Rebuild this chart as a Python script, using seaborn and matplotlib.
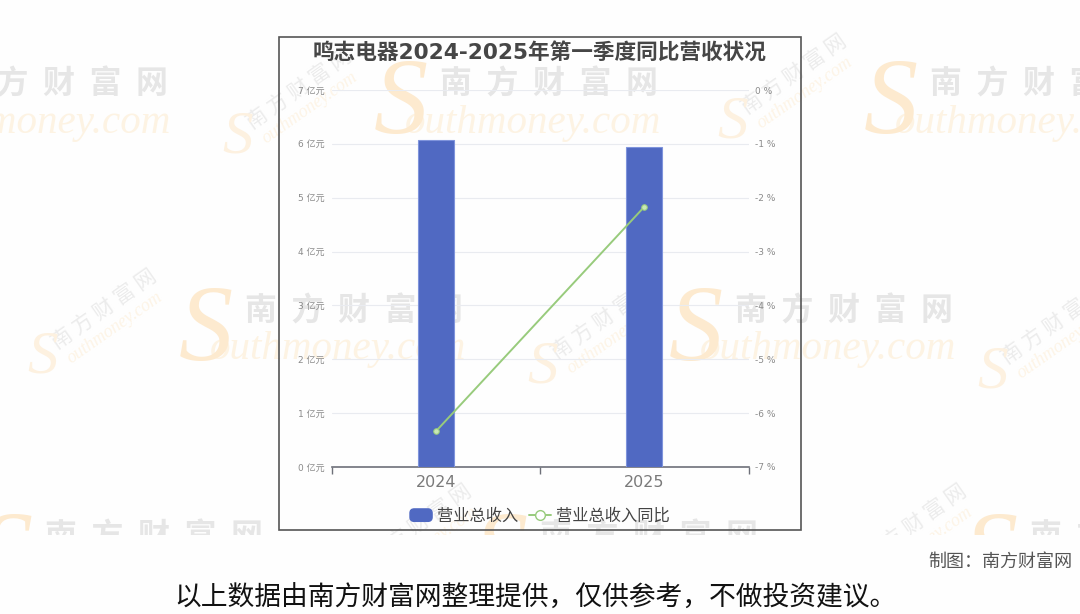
"""
鸣志电器 2024-2025 第一季度同比营收 - bar + line on twin axes, with watermark
"""
import pandas as pd
import matplotlib.pyplot as plt
import seaborn as sns
from matplotlib.patches import Rectangle, Patch, FancyBboxPatch
from matplotlib.lines import Line2D
from matplotlib.legend_handler import HandlerPatch
from matplotlib.transforms import Bbox

years = ["2024", "2025"]
revenue = [6.07, 5.94]        # 亿元
revenue_yoy = [-6.34, -2.17]  # %
rev_ticks = [0, 1, 2, 3, 4, 5, 6, 7]
rev_labels = ["0 亿元", "1 亿元", "2 亿元", "3 亿元", "4 亿元", "5 亿元", "6 亿元", "7 亿元"]
yoy_ticks = [-7, -6, -5, -4, -3, -2, -1, 0]
yoy_labels = ["-7 %", "-6 %", "-5 %", "-4 %", "-3 %", "-2 %", "-1 %", "0 %"]

title = "鸣志电器2024-2025年第一季度同比营收状况"
bar_name = "营业总收入"
line_name = "营业总收入同比"
credit = "制图：南方财富网"
note = "以上数据由南方财富网整理提供，仅供参考，不做投资建议。"
wm_cn = "南方财富网"
wm_en = "outhmoney.com"

BAR_COLOR = "#5069c2"
LINE_COLOR = "#98cb7c"
GRID_COLOR = "#e9ebf0"
AXIS_COLOR = "#6e7079"
LABEL_COLOR = "#8a8a8a"

sns.set_theme(style="white")
plt.rcParams["font.family"] = ["DejaVu Sans", "Noto Sans CJK SC"]

W, H = 1080, 614
fig = plt.figure(figsize=(W / 100, H / 100), dpi=100, facecolor="#fefefe")


def px(x, y):
    return x / W, 1 - y / H


# -------------------------------------------------------------------
# watermark, cut off under the chart image
# -------------------------------------------------------------------
clip = Bbox([[0, H - 535], [W, H]])


def big_mark(x, y):
    # x, y = left end and centre of the chinese row
    for t in [
        fig.text(*px(x, y), "  ".join(wm_cn), fontsize=23, color="#e6e6e6", family="Noto Sans CJK SC",
                 weight="bold", va="center", ha="left", zorder=-1),
        fig.text(*px(x - 35, y + 38), wm_en, fontsize=29.5, color="#fdf3e3", family="Liberation Serif",
                 style="italic", va="center", ha="left", zorder=-1),
        fig.text(*px(x - 12, y + 22), "S", fontsize=78, color="#fdeacf", family="Liberation Serif",
                 style="italic", va="center", ha="right", zorder=-1),
    ]:
        t.set_clip_box(clip)
        t.set_clip_on(True)


def small_mark(x, y):
    for t in [
        fig.text(*px(x, y), " ".join(wm_cn), fontsize=15, color="#ececec", family="Noto Sans CJK SC",
                 rotation=35, va="center", ha="center", zorder=-1),
        fig.text(*px(x + 10, y + 18), wm_en, fontsize=13, color="#fdf4e6", family="Liberation Serif",
                 style="italic", rotation=35, va="center", ha="center", zorder=-1),
        fig.text(*px(x - 62, y + 48), "S", fontsize=44, color="#fdf1e0", family="Liberation Serif",
                 style="italic", va="center", ha="center", zorder=-1),
    ]:
        t.set_clip_box(clip)
        t.set_clip_on(True)


for x0, y0 in [(-50, 85), (440, 85), (930, 85), (245, 312), (735, 312), (45, 538), (540, 538), (1030, 538)]:
    big_mark(x0, y0)
for x0, y0 in [(300, 90), (795, 75), (105, 310), (605, 320), (1055, 325), (420, 525), (915, 525)]:
    small_mark(x0, y0)

# chart frame
fig.add_artist(Rectangle(px(279, 530), 522 / W, 493 / H, transform=fig.transFigure,
                         fill=False, edgecolor="#555555", linewidth=1.2))

# -------------------------------------------------------------------
# bars + line
# -------------------------------------------------------------------
df = pd.DataFrame({"year": years, "revenue": revenue, "yoy": revenue_yoy})

left, bottom = px(331.5, 467)
ax = fig.add_axes([left, bottom, (749 - 332) / W, (467 - 90) / H])
ax.patch.set_alpha(0)

sns.barplot(data=df, x="year", y="revenue", ax=ax, color=BAR_COLOR, width=0.172,
            saturation=1, edgecolor="#7f94dc", linewidth=0.8, zorder=3)
ax.set_xlim(-0.5, 1.5)
ax.set_ylim(0, 7)
ax.set_xlabel("")
ax.set_ylabel("")
ax.set_yticks(rev_ticks, rev_labels)
ax.tick_params(axis="y", length=0, pad=5, labelsize=6.5, labelcolor=LABEL_COLOR)
ax.tick_params(axis="x", which="major", length=0, pad=6, labelsize=11.5, labelcolor="#7a7a7a")
ax.set_xticks([-0.5, 0.5, 1.5], minor=True)
ax.tick_params(axis="x", which="minor", length=5, width=1, color=AXIS_COLOR, bottom=True)
ax.grid(axis="y", color=GRID_COLOR, linewidth=0.8)
ax.set_axisbelow(True)
sns.despine(ax=ax, left=True, right=True, top=True)
ax.spines["bottom"].set_color(AXIS_COLOR)
ax.spines["bottom"].set_linewidth(1.2)

ax2 = ax.twinx()
ax2.patch.set_alpha(0)
sns.lineplot(data=df, x="year", y="yoy", ax=ax2, color=LINE_COLOR, linewidth=1.4, sort=False,
             marker="o", markersize=4, markerfacecolor="#c9e8b5", markeredgecolor=LINE_COLOR, zorder=5)
ax2.set_ylim(-7, 0)
ax2.set_xlabel("")
ax2.set_ylabel("")
ax2.set_yticks(yoy_ticks, yoy_labels)
ax2.tick_params(axis="y", length=0, pad=5, labelsize=6.5, labelcolor=LABEL_COLOR)
sns.despine(ax=ax2, left=True, right=True, top=True, bottom=True)

# -------------------------------------------------------------------
# text
# -------------------------------------------------------------------
fig.text(*px(540, 53), title, fontsize=15.6, weight="bold", color="#464646", ha="center", va="center")


def round_handle(legend, orig_handle, xdescent, ydescent, width, height, fontsize):
    return FancyBboxPatch((-xdescent + 2, -ydescent + 2), width - 4, height - 4,
                          boxstyle="round,pad=2,rounding_size=3")


handles = [
    Patch(facecolor=BAR_COLOR, edgecolor=BAR_COLOR, label=bar_name),
    Line2D([0], [0], color=LINE_COLOR, linewidth=1.4, marker="o", markersize=7,
           markerfacecolor="white", markeredgecolor=LINE_COLOR, label=line_name),
]
fig.legend(handles=handles, loc="center", bbox_to_anchor=px(540, 516), ncol=2, frameon=False,
           fontsize=11.7, labelcolor="#444444", handlelength=1.36, handleheight=0.8,
           handletextpad=0.3, columnspacing=0.68, borderpad=0,
           handler_map={Patch: HandlerPatch(patch_func=round_handle)})

fig.text(*px(1072, 562), credit, fontsize=13, color="#555555", ha="right", va="center",
         family=["Noto Sans CJK SC", "DejaVu Sans"])
fig.text(*px(535, 598), note, fontsize=19.3, color="#111111", ha="center", va="center",
         family=["Noto Sans CJK SC", "DejaVu Sans"])

plt.savefig("out.png", dpi=100, facecolor=fig.get_facecolor())
plt.close()
